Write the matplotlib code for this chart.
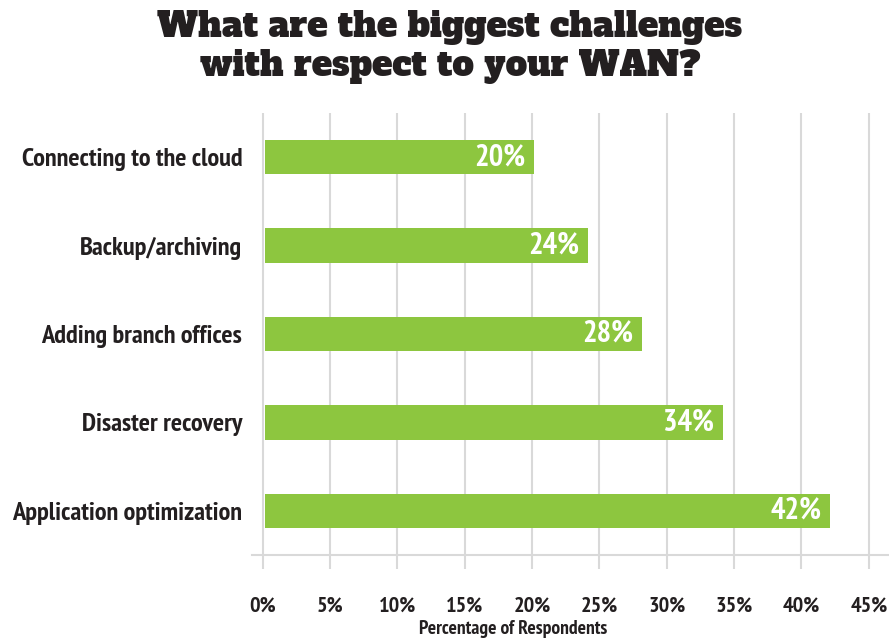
import matplotlib
matplotlib.use("Agg")
import matplotlib.pyplot as plt
from matplotlib.ticker import FuncFormatter

categories = ["Connecting to the cloud", "Backup/archiving", "Adding branch offices",
              "Disaster recovery", "Application optimization"]
values = [20, 24, 28, 34, 42]
ticks = [0, 5, 10, 15, 20, 25, 30, 35, 40, 45]

GREEN = "#8dc63f"
DARK = "#231f20"
GRID = "#d9d9d9"

plt.rcParams["font.family"] = ["PT Sans Narrow", "DejaVu Sans"]

fig = plt.figure(figsize=(8.89, 6.39), dpi=100)
ax = fig.add_axes([252 / 889, 1 - 555 / 639, (889 - 252) / 889, (555 - 113) / 639])

y = list(range(len(categories)))
ax.barh(y, values, height=0.39, color=GREEN, zorder=3, left=0.15)
for yi, v in zip(y, values):
    ax.text(v - 0.5, yi, f"{v}%", ha="right", va="center", color="white",
            fontsize=22, fontweight="bold", zorder=4)

ax.set_xlim(-0.8, 46.5)
ax.set_ylim(len(categories) - 0.5, -0.5)
ax.set_xticks(ticks)
ax.xaxis.set_major_formatter(FuncFormatter(lambda v, p: f"{int(v)}%"))
ax.grid(axis="x", color=GRID, linewidth=1.5, zorder=0)
ax.set_yticks(y)
ax.set_yticklabels(categories)

for s in ["top", "right", "left"]:
    ax.spines[s].set_visible(False)
ax.spines["bottom"].set_color(GRID)
ax.spines["bottom"].set_linewidth(1.5)
ax.tick_params(axis="x", length=10, width=1.5, color=GRID, pad=20,
               labelsize=16, labelcolor=DARK)
ax.tick_params(axis="y", length=0, pad=7, labelsize=19, labelcolor=DARK)
for lab in ax.get_xticklabels() + ax.get_yticklabels():
    lab.set_fontweight("bold")

ax.set_xlabel("Percentage of Respondents", fontsize=14, fontweight="bold",
              color=DARK)
ax.xaxis.set_label_coords((513 - 252) / 637, -0.146)

fig.text(0.506, 0.985, "What are the biggest challenges\nwith respect to your WAN?",
         ha="center", va="top", fontsize=24.5, color=DARK,
         family=["Alfa Slab One", "DejaVu Serif"], linespacing=1.15)

fig.savefig("out.png", dpi=100)
